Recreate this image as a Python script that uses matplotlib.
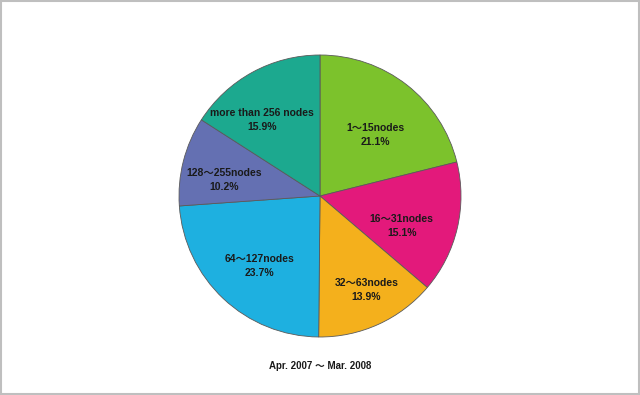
import matplotlib
matplotlib.use("Agg")
import matplotlib.pyplot as plt
from matplotlib.patches import Rectangle

labels = ["1〜15nodes", "16〜31nodes", "32〜63nodes", "64〜127nodes",
          "128〜255nodes", "more than 256 nodes"]
shares = [21.1, 15.1, 13.9, 23.7, 10.2, 15.9]
colors = ["#7cc22c", "#e3197b", "#f4b01c", "#1eb0e0", "#6470b2", "#1ca98f"]
title = "Apr. 2007 〜 Mar. 2008"

# where the data labels sit, in units of the radius
label_x = [0.39, 0.58, 0.33, -0.43, -0.68, -0.41]
label_y = [0.43, -0.21, -0.67, -0.50, 0.11, 0.54]

fams = ["Liberation Sans", "Noto Sans CJK JP"]

fig = plt.figure(figsize=(6.4, 3.95), dpi=100)
fig.patches.append(Rectangle((0.002, 0.002), 0.996, 0.996, transform=fig.transFigure,
                             fill=False, edgecolor="#bfbfbf", linewidth=1.5))

R = 141
ax = fig.add_axes([(320 - R) / 640, (199 - R) / 395, 2 * R / 640, 2 * R / 395])
wedges, texts = ax.pie(shares, colors=colors, startangle=90, counterclock=False,
                       wedgeprops=dict(edgecolor="#5a5a5a", linewidth=0.6))
for l, s, x, y in zip(labels, shares, label_x, label_y):
    ax.text(x, y, f"{l}\n{s:.1f}%", ha="center", va="center",
            fontsize=7.5, fontweight="bold", family=fams, color="#1a1a1a",
            linespacing=1.5)
ax.set_aspect("equal")
ax.set_xlim(-1, 1)
ax.set_ylim(-1, 1)

fig.text(0.5, 1 - 366 / 395, title, ha="center", va="center", fontsize=7,
         fontweight="bold", family=fams, color="#1a1a1a")

fig.savefig("out.png", dpi=100)
